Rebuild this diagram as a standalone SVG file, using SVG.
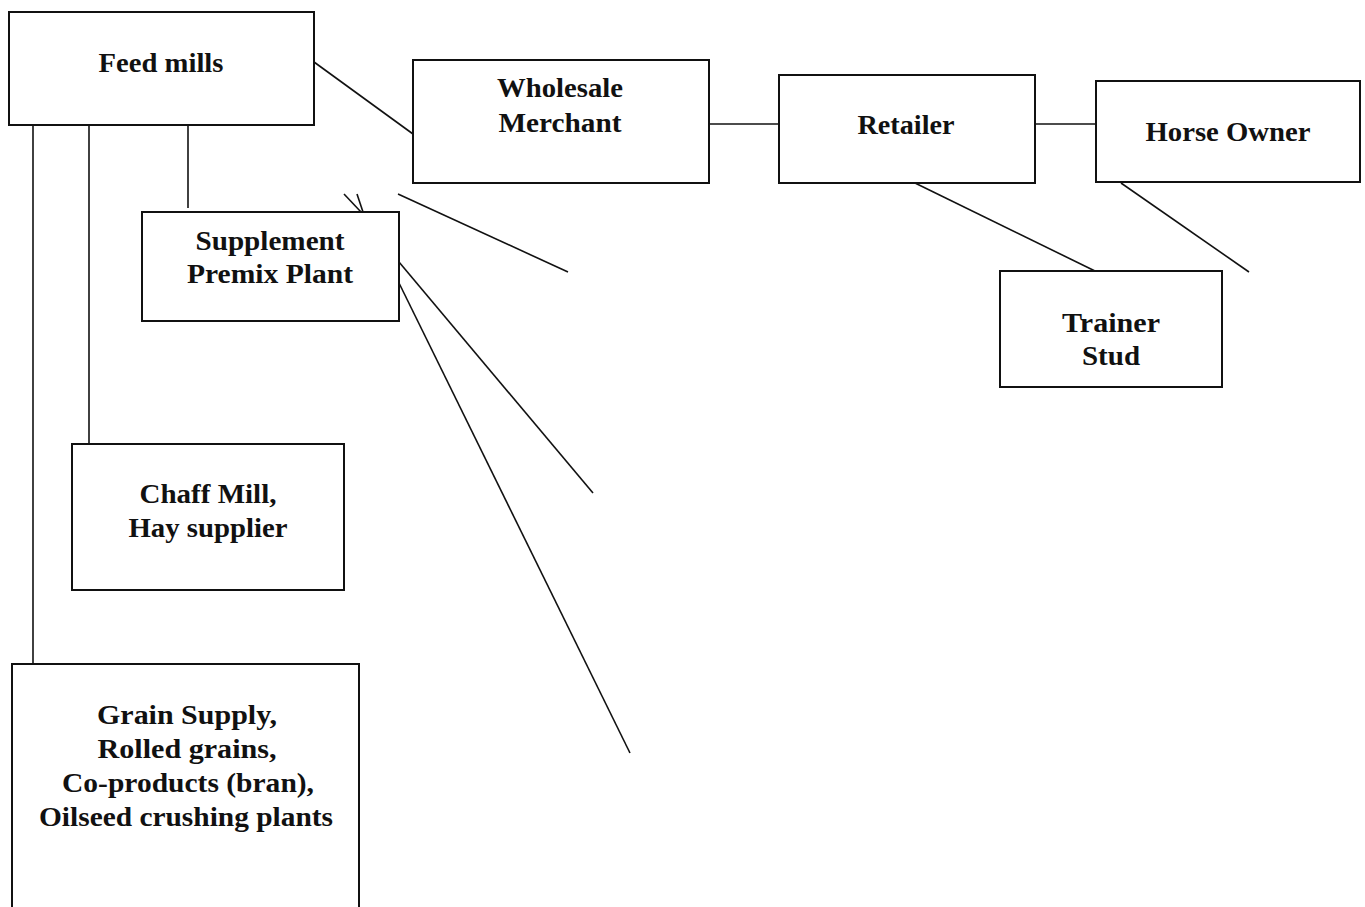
<svg xmlns="http://www.w3.org/2000/svg" width="1365" height="907" viewBox="0 0 1365 907">
<style>
.box{fill:#fff;stroke:#111;stroke-width:2}
.ln{stroke:#111;stroke-width:1.6;fill:none}
text{font-family:"Liberation Serif","Times New Roman",serif;font-weight:bold;font-size:27px;fill:#111;text-anchor:middle}
</style>
<rect width="1365" height="907" fill="#fff"/>
<g id="connectors">
<line class="ln" x1="33" y1="125" x2="33" y2="664"/>
<line class="ln" x1="89" y1="125" x2="89" y2="444"/>
<line class="ln" x1="188" y1="125" x2="188" y2="208"/>
<line class="ln" x1="314" y1="62" x2="413" y2="134"/>
<line class="ln" x1="709" y1="124" x2="779" y2="124"/>
<line class="ln" x1="1035" y1="124" x2="1096" y2="124"/>
<line class="ln" x1="915" y1="183" x2="1095" y2="271"/>
<line class="ln" x1="1121" y1="183" x2="1249" y2="272"/>
<line class="ln" x1="344" y1="194" x2="361" y2="212"/>
<line class="ln" x1="357" y1="194" x2="363" y2="212"/>
<line class="ln" x1="398" y1="194" x2="568" y2="272"/>
<line class="ln" x1="399" y1="262" x2="593" y2="493"/>
<line class="ln" x1="399" y1="283" x2="630" y2="753"/>
</g>
<g id="feed-mills">
<rect class="box" x="9" y="12" width="305" height="113"/>
<text x="161" y="72" textLength="125" lengthAdjust="spacingAndGlyphs">Feed mills</text>
</g>
<g id="wholesale">
<rect class="box" x="413" y="60" width="296" height="123"/>
<text x="560" y="97" textLength="126" lengthAdjust="spacingAndGlyphs">Wholesale</text>
<text x="560" y="132" textLength="123" lengthAdjust="spacingAndGlyphs">Merchant</text>
</g>
<g id="retailer">
<rect class="box" x="779" y="75" width="256" height="108"/>
<text x="906" y="134" textLength="97" lengthAdjust="spacingAndGlyphs">Retailer</text>
</g>
<g id="horse-owner">
<rect class="box" x="1096" y="81" width="264" height="101"/>
<text x="1228" y="141" textLength="165" lengthAdjust="spacingAndGlyphs">Horse Owner</text>
</g>
<g id="trainer-stud">
<rect class="box" x="1000" y="271" width="222" height="116"/>
<text x="1111" y="332" textLength="98" lengthAdjust="spacingAndGlyphs">Trainer</text>
<text x="1111" y="365" textLength="58" lengthAdjust="spacingAndGlyphs">Stud</text>
</g>
<g id="supplement">
<rect class="box" x="142" y="212" width="257" height="109"/>
<text x="270" y="250" textLength="149" lengthAdjust="spacingAndGlyphs">Supplement</text>
<text x="270" y="283" textLength="166" lengthAdjust="spacingAndGlyphs">Premix Plant</text>
</g>
<g id="chaff-mill">
<rect class="box" x="72" y="444" width="272" height="146"/>
<text x="208" y="503" textLength="137" lengthAdjust="spacingAndGlyphs">Chaff Mill,</text>
<text x="208" y="537" textLength="159" lengthAdjust="spacingAndGlyphs">Hay supplier</text>
</g>
<g id="grain-supply">
<rect class="box" x="12" y="664" width="347" height="270"/>
<text x="187" y="724" textLength="180" lengthAdjust="spacingAndGlyphs">Grain Supply,</text>
<text x="187" y="758" textLength="179" lengthAdjust="spacingAndGlyphs">Rolled grains,</text>
<text x="188" y="792" textLength="252" lengthAdjust="spacingAndGlyphs">Co-products (bran),</text>
<text x="186" y="826" textLength="294" lengthAdjust="spacingAndGlyphs">Oilseed crushing plants</text>
</g>
</svg>
